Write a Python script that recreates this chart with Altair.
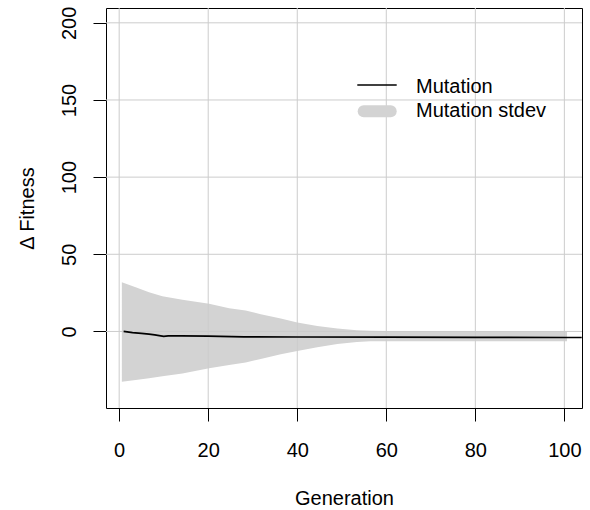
import altair as alt
import pandas as pd

# ---- data ----
band_gen = [0.6, 3.7, 6.7, 9.7, 14.2, 20.2, 24.7, 28.4, 31.8, 36.3, 40.0, 44.5, 49.0, 53.4, 56.4, 60.0, 100.6]
band_upper = [31.9, 28.7, 25.4, 22.8, 20.5, 17.9, 15.1, 13.6, 11.2, 8.4, 5.8, 3.6, 1.9, 0.8, 0.4, 0.3, 0.3]
band_lower = [-32.6, -31.5, -30.4, -29.0, -27.2, -23.9, -21.8, -20.1, -17.8, -14.7, -12.6, -10.3, -8.2, -6.8, -6.4, -6.3, -6.3]

mean_gen = [1, 3, 5, 6.7, 8, 10, 11, 14, 20, 28, 40, 60, 80, 100, 103.9]
mean_val = [0.0, -0.8, -1.3, -1.7, -2.2, -3.2, -2.9, -2.8, -3.0, -3.5, -3.6, -3.7, -3.8, -3.9, -3.9]

x_ticks = [0, 20, 40, 60, 80, 100]
y_ticks = [0, 50, 100, 150, 200]
legend_labels = ["Mutation", "Mutation stdev"]

FONT = "Liberation Sans"
GRID = "#cccccc"
BAND = "#d3d3d3"

band_df = pd.DataFrame({"gen": band_gen, "upper": band_upper, "lower": band_lower})
mean_df = pd.DataFrame({"gen": mean_gen, "val": mean_val})
xt_df = pd.DataFrame({"gen": x_ticks})
yt_df = pd.DataFrame({"upper": y_ticks})

xscale = alt.Scale(domain=[-2.96, 103.96], nice=False, zero=False)
yscale = alt.Scale(domain=[-49.6, 209.6], nice=False, zero=False)

xaxis = alt.Axis(
    values=x_ticks, grid=False, domain=False, ticks=True, tickSize=13, tickColor="black",
    tickWidth=1, labelFont=FONT, labelFontSize=20, labelColor="black",
    labelBaseline="alphabetic", labelPadding=35, labelFlush=False, labelOverlap=False,
    title="Generation", titleFont=FONT, titleFontSize=20, titleFontWeight="normal",
    titleColor="black", titleX=238, titleY=96, titleAlign="center", titleBaseline="alphabetic",
)
yaxis = alt.Axis(
    values=y_ticks, grid=False, domain=False, ticks=True, tickSize=13, tickColor="black",
    tickWidth=1, labelFont=FONT, labelFontSize=20, labelColor="black",
    labelAngle=270, labelAlign="center", labelBaseline="alphabetic", labelPadding=18,
    labelFlush=False, labelOverlap=False,
    title="Δ Fitness", titleFont=FONT, titleFontSize=20, titleFontWeight="normal",
    titleColor="black", titleX=-72.7, titleY=200, titleAngle=270, titleAlign="center",
    titleBaseline="alphabetic",
)

X = alt.X("gen:Q", scale=xscale, axis=xaxis, title="Generation")

band = alt.Chart(band_df).mark_area(color=BAND, opacity=1).encode(
    x=X,
    y=alt.Y("upper:Q", scale=yscale, axis=yaxis, title="Δ Fitness"),
    y2="lower:Q",
)

gridx = alt.Chart(xt_df).mark_rule(color=GRID, strokeWidth=1).encode(x=X)
gridy = alt.Chart(yt_df).mark_rule(color=GRID, strokeWidth=1).encode(
    y=alt.Y("upper:Q", scale=yscale, axis=yaxis, title="Δ Fitness")
)

line = alt.Chart(mean_df).mark_line(color="black", strokeWidth=1.7).encode(
    x=X,
    y=alt.Y("val:Q", scale=yscale, axis=yaxis, title="Δ Fitness"),
)

leg_df1 = pd.DataFrame({"label": [legend_labels[0]]})
leg_df2 = pd.DataFrame({"label": [legend_labels[1]]})

leg_line = alt.Chart(leg_df1).mark_rule(color="black", strokeWidth=1.7).encode(
    x=alt.value(251.3), x2=alt.value(290.7), y=alt.value(77)
)
leg_band = alt.Chart(leg_df2).mark_rule(color=BAND, strokeWidth=12, strokeCap="round").encode(
    x=alt.value(257.7), x2=alt.value(284.7), y=alt.value(103.3)
)
leg_text1 = alt.Chart(leg_df1).mark_text(
    font=FONT, fontSize=20, color="black", align="left", baseline="alphabetic"
).encode(x=alt.value(310), y=alt.value(84.7), text="label:N")
leg_text2 = alt.Chart(leg_df2).mark_text(
    font=FONT, fontSize=20, color="black", align="left", baseline="alphabetic"
).encode(x=alt.value(310), y=alt.value(109.3), text="label:N")

chart = alt.layer(
    band, gridx, gridy, line, leg_line, leg_band, leg_text1, leg_text2
).properties(
    width=476, height=400,
    autosize=alt.AutoSizeParams(type="none"),
    padding={"left": 106, "top": 8, "right": 8, "bottom": 102},
    background="white",
).configure_view(
    stroke="black", strokeWidth=1
)

chart.save("out.html", embed_options={"renderer": "svg", "actions": False})
